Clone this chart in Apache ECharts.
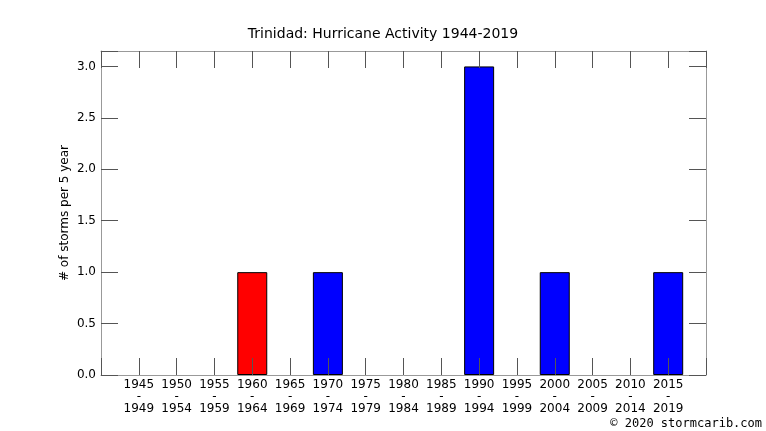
<!DOCTYPE html>
<html>
<head>
<meta charset="utf-8">
<script src="https://cdn.jsdelivr.net/npm/echarts@6/dist/echarts.min.js"></script>
<style>
html,body{margin:0;padding:0;background:#fff;}
#chart{width:766px;height:431px;}
</style>
</head>
<body>
<div id="chart"></div>
<script>
const categories = ['1945-1949','1950-1954','1955-1959','1960-1964','1965-1969','1970-1974','1975-1979','1980-1984','1985-1989','1990-1994','1995-1999','2000-2004','2005-2009','2010-2014','2015-2019'];
const stormCounts = [0,0,0,1,0,1,0,0,0,3,0,1,0,0,1];
const yTicks = [0, 0.5, 1.0, 1.5, 2.0, 2.5, 3.0];
const highlightCategory = '1960-1964';

const chart = echarts.init(document.getElementById('chart'));
const FONT = 'DejaVu Sans';
const tickStyle = {color: '#555', width: 1};
const axisLineStyle = {color: '#999', width: 1};

const seriesData = stormCounts.map((v, i) => v === 0 ? null : {
  value: [i, v],
  itemStyle: {color: categories[i] === highlightCategory ? '#ff0000' : '#0000ff'}
}).filter(d => d);

const xCommon = {
  type: 'value', min: -1, max: categories.length, interval: 1,
  splitLine: {show: false},
  axisLine: {show: true, onZero: false, lineStyle: axisLineStyle},
  axisTick: {show: true, inside: true, length: 17, lineStyle: tickStyle},
  z: 10
};
const yCommon = {
  type: 'value', min: 0, max: 3.15, interval: 0.5,
  splitLine: {show: false},
  axisLine: {show: true, onZero: false, lineStyle: axisLineStyle},
  axisTick: {show: true, inside: true, length: 17, lineStyle: tickStyle},
  z: 10
};

chart.setOption({
  animation: false,
  backgroundColor: '#fff',
  title: {
    text: 'Trinidad: Hurricane Activity 1944-2019',
    left: 'center', top: 22,
    textStyle: {fontFamily: FONT, fontSize: 14, fontWeight: 'normal', color: '#000'}
  },
  grid: {left: 101, right: 60, top: 51, bottom: 56},
  xAxis: [
    Object.assign({}, xCommon, {
      position: 'bottom',
      axisLabel: {
        show: true, margin: 4, fontFamily: FONT, fontSize: 12, color: '#000', lineHeight: 12,
        formatter: v => categories[v] ? categories[v].replace('-', '\n-\n') : ''
      }
    }),
    Object.assign({}, xCommon, {position: 'top', axisLabel: {show: false}})
  ],
  yAxis: [
    Object.assign({}, yCommon, {
      position: 'left',
      name: '# of storms per 5 year',
      nameLocation: 'middle', nameGap: 30, nameRotate: 90,
      nameMoveOverlap: false,
      nameTextStyle: {fontFamily: FONT, fontSize: 12, color: '#000'},
      axisLabel: {
        show: true, margin: 5, fontFamily: FONT, fontSize: 12, color: '#000',
        showMaxLabel: true,
        formatter: v => yTicks.indexOf(Math.round(v * 100) / 100) >= 0 ? v.toFixed(1) : ''
      }
    }),
    Object.assign({}, yCommon, {position: 'right', axisLabel: {show: false}})
  ],
  series: [{
    type: 'bar',
    xAxisIndex: 0, yAxisIndex: 0,
    barWidth: 30,
    data: seriesData,
    itemStyle: {borderColor: '#000', borderWidth: 1},
    z: 2
  }],
  graphic: [{
    type: 'text', right: 4, top: 418,
    style: {text: '© 2020 stormcarib.com', font: '12px "DejaVu Sans Mono"', fill: '#000'}
  }]
});
</script>
</body>
</html>
